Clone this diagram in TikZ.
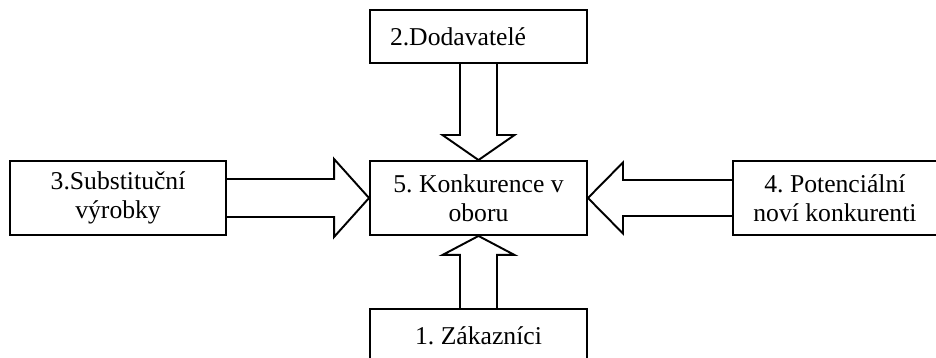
\documentclass[tikz,border=0pt]{standalone}
\usepackage{fontspec}
\setmainfont{Liberation Serif}
\usetikzlibrary{positioning}

\begin{document}
\frenchspacing
\begin{tikzpicture}[
    box/.style={rectangle, draw=black, line width=1.1pt, align=center, minimum width=4.34cm, minimum height=1.48cm, font=\fontsize{14.6pt}{16.5pt}\selectfont},
    twoline/.style={box, execute at begin node={\rule{0pt}{0.62cm}}},
    flatbox/.style={box, minimum height=1.06cm},
    leftbox/.style={flatbox, align=left, text width=3.54cm, inner xsep=0.4cm},
    blockarrow/.style={draw=black, line width=1.1pt, line join=miter}
]
\fill[white] (0,0) rectangle (18.72,-7.16);
\useasboundingbox (0,0) rectangle (18.72,-7.16);

\node[twoline] (konk) at (9.57,-3.96) {5. Konkurence v\\oboru};
\node[leftbox, above=1.92cm of konk] (dod) {2.Dodavatelé};
\node[flatbox, below=1.44cm of konk] (zak) {1. Zákazníci};
\node[twoline, minimum width=4.32cm, left=2.84cm of konk] (subst) {3.Substituční\\výrobky};
\node[twoline, minimum width=4.08cm, right=2.88cm of konk] (novi) {4. Potenciální\\noví konkurenti};

% block arrows
\draw[blockarrow] ([xshift=-0.37cm]dod.south) -- ([xshift=-0.37cm,yshift=0.5cm]konk.north) -- ([xshift=-0.72cm,yshift=0.5cm]konk.north) -- (konk.north) -- ([xshift=0.72cm,yshift=0.5cm]konk.north) -- ([xshift=0.37cm,yshift=0.5cm]konk.north) -- ([xshift=0.37cm]dod.south);
\draw[blockarrow] ([xshift=-0.37cm]zak.north) -- ([xshift=-0.37cm,yshift=-0.38cm]konk.south) -- ([xshift=-0.72cm,yshift=-0.38cm]konk.south) -- (konk.south) -- ([xshift=0.72cm,yshift=-0.38cm]konk.south) -- ([xshift=0.37cm,yshift=-0.38cm]konk.south) -- ([xshift=0.37cm]zak.north);
\draw[blockarrow] ([yshift=0.38cm]subst.east) -- ([xshift=-0.7cm,yshift=0.38cm]konk.west) -- ([xshift=-0.7cm,yshift=0.78cm]konk.west) -- (konk.west) -- ([xshift=-0.7cm,yshift=-0.78cm]konk.west) -- ([xshift=-0.7cm,yshift=-0.38cm]konk.west) -- ([yshift=-0.38cm]subst.east);
\draw[blockarrow] ([yshift=0.36cm]novi.west) -- ([xshift=0.7cm,yshift=0.36cm]konk.east) -- ([xshift=0.7cm,yshift=0.71cm]konk.east) -- (konk.east) -- ([xshift=0.7cm,yshift=-0.71cm]konk.east) -- ([xshift=0.7cm,yshift=-0.36cm]konk.east) -- ([yshift=-0.36cm]novi.west);
\end{tikzpicture}
\end{document}
